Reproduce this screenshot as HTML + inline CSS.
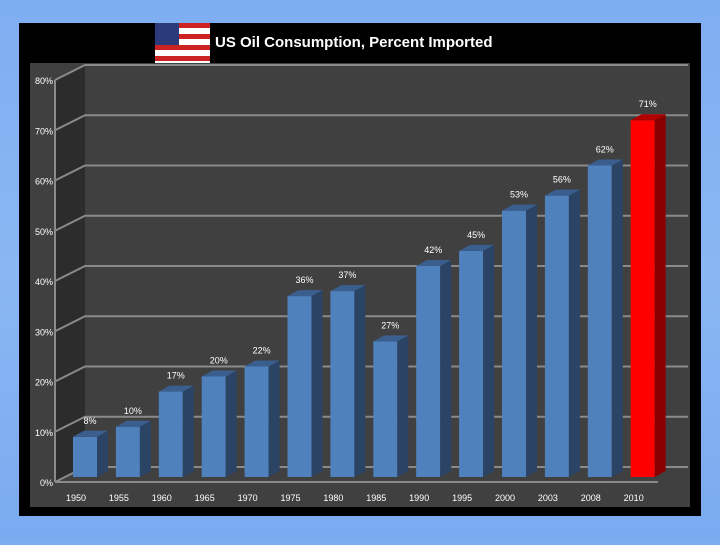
<!DOCTYPE html>
<html><head><meta charset="utf-8"><style>
html,body{margin:0;padding:0;}
body{width:720px;height:540px;overflow:hidden;background:linear-gradient(180deg,#7eaef2 0%,#8ab7f3 50%,#7aaaf0 100%);font-family:"Liberation Sans",sans-serif;}
</style></head><body>
<svg width="720" height="540">
<rect x="19" y="23" width="682" height="493" fill="#000"/>
<rect x="30" y="63" width="660" height="444" fill="#404040"/>
<g>
<rect x="155" y="23" width="55" height="40" fill="#fff"/>
<rect x="155" y="23" width="55" height="5" fill="#c22"/>
<rect x="155" y="34" width="55" height="5" fill="#c22"/>
<rect x="155" y="45" width="55" height="5" fill="#c22"/>
<rect x="155" y="56" width="55" height="5" fill="#c22"/>
<rect x="155" y="23" width="24" height="22" fill="#2a3a7a"/>
</g>
<text x="215" y="47" fill="#fff" font-size="15" font-weight="bold">US Oil Consumption, Percent Imported</text>
<g id="g"></g>
</svg>
<script>
const categories=["1950","1955","1960","1965","1970","1975","1980","1985","1990","1995","2000","2003","2008","2010"];
const values=[8,10,17,20,22,36,37,27,42,45,53,56,62,71];
const ticks=[0,10,20,30,40,50,60,70,80];
const NS="http://www.w3.org/2000/svg";
const g=document.getElementById('g');
const DX=30,DY=-15,X0=55,Y0=482,PX=5.025;
function y(v){return Y0-v*PX;}
function cx(i){return 85+i*42.9;}
function mk(t,a,p){const e=document.createElementNS(NS,t);for(const k in a)e.setAttribute(k,a[k]);(p||g).appendChild(e);return e;}
// side wall
let w=mk('polygon',{points:`${X0},${y(0)} ${X0+DX},${y(0)+DY} ${X0+DX},${y(80)+DY} ${X0},${y(80)}`,fill:'#2c2c2c'});


ticks.forEach(t=>{
 const l=mk('polyline',{points:`${X0},${y(t)} ${X0+DX},${y(t)+DY} 688,${y(t)+DY}`,fill:'none',stroke:'#8a8a8a','stroke-width':2});
 
 
 const tx=mk('text',{x:53,y:y(t)+4,fill:'#fff','font-size':9,'text-anchor':'end'});
 tx.textContent=t+'%';
 
 
});
const ax=mk('line',{x1:X0,y1:y(0),x2:X0,y2:y(80),stroke:'#8a8a8a','stroke-width':2});


const fl=mk('line',{x1:X0,y1:y(0),x2:658,y2:y(0),stroke:'#8a8a8a','stroke-width':2});


values.forEach((v,i)=>{
 const red=i===values.length-1;
 const c=cx(i),L=c-12,R=c+12,B=477,T=B-v*PX,d=11,dy=6;
 const bg=mk('g',{});
 
 
 mk('rect',{x:L,y:T,width:24,height:B-T,fill:red?'#ff0000':'#4f81bd'},bg);
 mk('polygon',{points:`${R},${B} ${R+d},${B-dy} ${R+d},${T-dy} ${R},${T}`,fill:red?'#8a0000':'#2b4466'},bg);
 mk('polygon',{points:`${L},${T} ${L+d},${T-dy} ${R+d},${T-dy} ${R},${T}`,fill:red?'#b00000':'#3a5f8f'},bg);
 const lb=mk('text',{x:c+5,y:T-13,fill:'#fff','font-size':9,'text-anchor':'middle'});
 lb.textContent=v+'%';
 
 
 const xl=mk('text',{x:c-9,y:501,fill:'#fff','font-size':9,'text-anchor':'middle'});
 xl.textContent=categories[i];
 
 
});
</script>
</body></html>
